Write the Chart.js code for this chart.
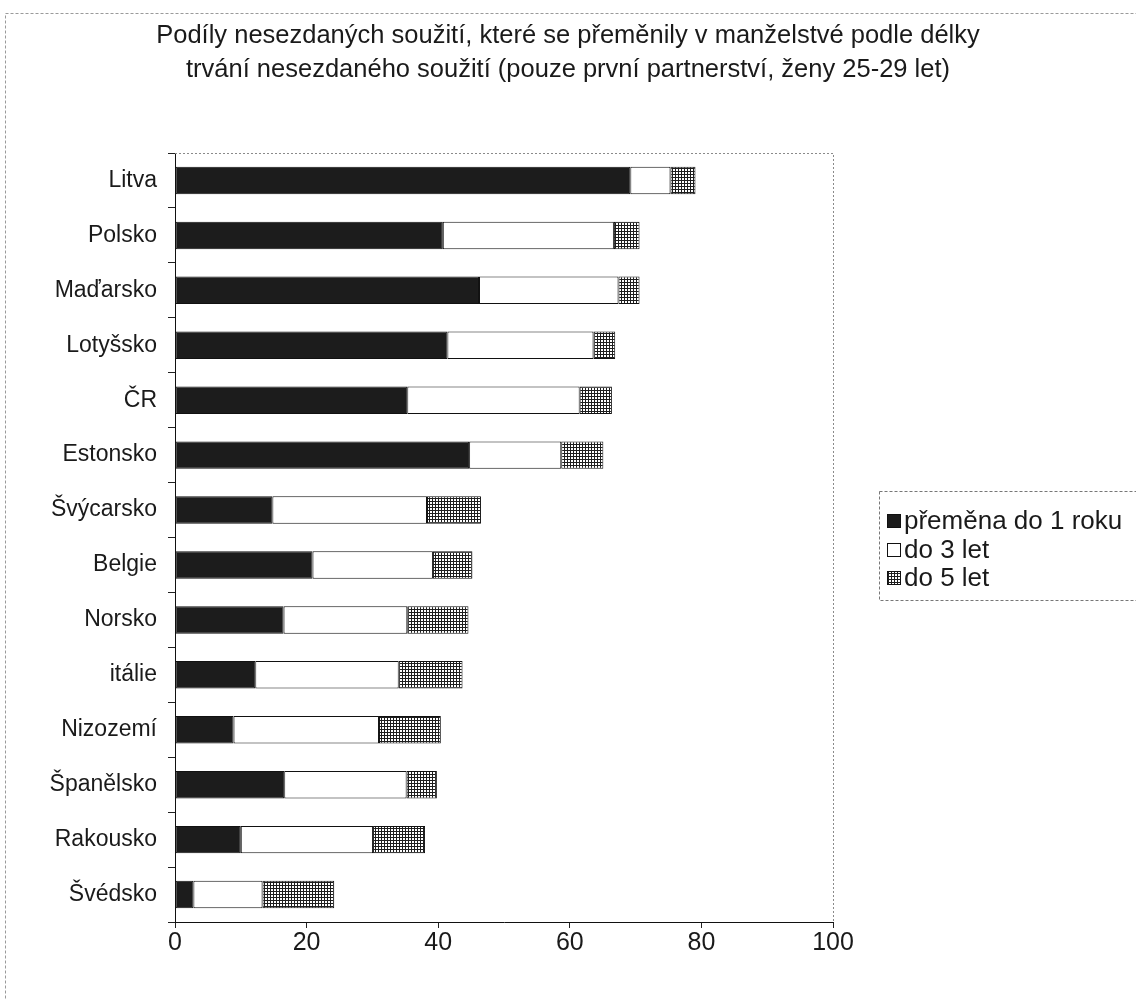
<!DOCTYPE html>
<html>
<head>
<meta charset="utf-8">
<script src="https://cdn.jsdelivr.net/npm/chart.js@4.4.0/dist/chart.umd.min.js"></script>
<style>
  html, body { margin: 0; padding: 0; background: #fff; }
  #wrap { width: 1136px; height: 999px; position: relative; }
</style>
</head>
<body>
<div id="wrap"><canvas id="c"></canvas></div>
<script>
const titleLines = [
  'Podíly nesezdaných soužití, které se přeměnily v manželstvé podle délky',
  'trvání nesezdaného soužití (pouze první partnerství, ženy 25-29 let)'
];
const categories = ['Litva', 'Polsko', 'Maďarsko', 'Lotyšsko', 'ČR', 'Estonsko', 'Švýcarsko',
  'Belgie', 'Norsko', 'itálie', 'Nizozemí', 'Španělsko', 'Rakousko', 'Švédsko'];
const seriesNames = ['přeměna do 1 roku', 'do 3 let', 'do 5 let'];
const within1 = [69.2, 40.7, 46.2, 41.4, 35.3, 44.7, 14.8, 20.9, 16.5, 12.2, 8.9, 16.6, 10.0, 2.8];
const within3 = [6.1, 26.0, 21.2, 22.2, 26.2, 14.0, 23.5, 18.3, 18.8, 21.8, 22.1, 18.6, 20.1, 10.5];
const within5 = [3.8, 3.9, 3.2, 3.3, 4.9, 6.4, 8.2, 6.0, 9.3, 9.7, 9.4, 4.6, 7.9, 10.9];
const xTicks = [0, 20, 40, 60, 80, 100];

const FONT = '"Liberation Sans", Arial, sans-serif';

// pattern for the third series
const pc = document.createElement('canvas');
pc.width = 3; pc.height = 3;
const pg = pc.getContext('2d');
pg.fillStyle = '#1e1e1e'; pg.fillRect(0, 0, 3, 3);
pg.fillStyle = '#ffffff'; pg.fillRect(1, 1, 2, 2);
const ctx0 = document.getElementById('c').getContext('2d');
const pattern = ctx0.createPattern(pc, 'repeat');

const fills = ['#1c1c1c', '#ffffff', pattern];

const decor = {
  id: 'decor',
  beforeDraw(chart) {
    const c = chart.ctx;
    c.save();
    c.fillStyle = '#fff';
    c.fillRect(0, 0, chart.width, chart.height);
    c.restore();
  },
  afterDraw(chart) {
    const c = chart.ctx;
    const a = chart.chartArea;
    c.save();
    // outer border
    c.strokeStyle = '#9a9a9a';
    c.lineWidth = 1;
    c.setLineDash([3, 2]);
    c.strokeRect(5.5, 13.5, 1140, 995);
    // plot area top & right border
    c.strokeStyle = '#8a8a8a';
    c.setLineDash([2, 2]);
    c.beginPath();
    c.moveTo(a.left, a.top + 0.5);
    c.lineTo(a.right + 0.5, a.top + 0.5);
    c.lineTo(a.right + 0.5, a.bottom);
    c.stroke();
    c.setLineDash([]);
    // title
    c.fillStyle = '#1a1a1a';
    c.font = '25.5px ' + FONT;
    c.textAlign = 'center';
    c.textBaseline = 'middle';
    c.fillText(titleLines[0], 568, 36);
    c.fillText(titleLines[1], 568, 70);
    // legend
    const lx = 879, ly = 491, lw = 270, lh = 109;
    c.strokeStyle = '#777';
    c.setLineDash([3, 2]);
    c.strokeRect(lx + 0.5, ly + 0.5, lw, lh);
    c.setLineDash([]);
    c.font = '26px ' + FONT;
    c.textAlign = 'left';
    const rows = [ly + 30, ly + 59, ly + 87];
    chart.data.datasets.forEach((ds, i) => {
      const y = rows[i];
      c.fillStyle = ds.backgroundColor;
      c.fillRect(887, y - 7, 14, 14);
      c.strokeStyle = '#111';
      c.lineWidth = 1;
      c.strokeRect(887.5, y - 6.5, 13, 13);
      c.fillStyle = '#1a1a1a';
      c.fillText(ds.label, 904, y + 1);
    });
    c.restore();
  }
};

new Chart(ctx0, {
  type: 'bar',
  data: {
    labels: categories,
    datasets: [within1, within3, within5].map((d, i) => ({
      label: seriesNames[i],
      data: d,
      backgroundColor: fills[i],
      borderColor: '#111',
      borderWidth: 1,
      borderSkipped: false,
      barPercentage: 0.5,
      categoryPercentage: 1
    }))
  },
  options: {
    indexAxis: 'y',
    responsive: true,
    maintainAspectRatio: false,
    animation: false,
    layout: { padding: { top: 153, right: 303, bottom: 0, left: 0 } },
    plugins: { legend: { display: false }, title: { display: false }, tooltip: { enabled: false } },
    scales: {
      x: {
        stacked: true,
        min: 0, max: 100,
        afterBuildTicks(s) { s.ticks = xTicks.map(v => ({ value: v })); },
        afterFit(s) { s.height = 77; },
        grid: { drawOnChartArea: false, drawTicks: true, tickLength: 6, color: '#222' },
        border: { display: true, color: '#111', width: 1 },
        ticks: { color: '#1a1a1a', font: { family: FONT, size: 25 }, padding: 0 }
      },
      y: {
        stacked: true,
        afterFit(s) { s.width = 175; },
        grid: { drawOnChartArea: false, drawTicks: true, tickLength: 7, color: '#222', offset: true },
        border: { display: true, color: '#111', width: 1 },
        ticks: { color: '#1a1a1a', font: { family: FONT, size: 23 }, padding: 11 }
      }
    }
  },
  plugins: [decor]
});
</script>
</body>
</html>
